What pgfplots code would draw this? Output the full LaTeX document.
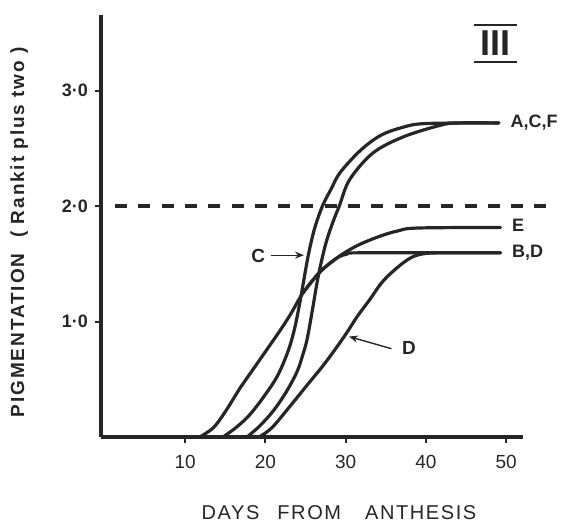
\documentclass[border=0pt]{standalone}
\usepackage{fontspec}
\setmainfont{Liberation Sans}
\usepackage{pgfplots}
\pgfplotsset{compat=1.18}
\usepackage{pgfplotstable}
\usetikzlibrary{arrows.meta}
\definecolor{ink}{RGB}{38,38,38}

% curve E (leftmost start, moderate slope)
\pgfplotstableread{
x y
11.8 0
13.5 0.08
15.0 0.22
16.8 0.42
18.5 0.59
20.2 0.76
21.7 0.91
23.1 1.06
24.7 1.25
26.8 1.43
28.9 1.55
30.2 1.61
31.8 1.67
34.3 1.74
36.5 1.785
39.0 1.81
49.3 1.815
}\curveE
% curve B (shares E, then levels off)
\pgfplotstableread{
x y
24.7 1.25
26.8 1.43
28.9 1.55
30.2 1.585
31.5 1.595
49.3 1.595
}\curveB
% curve C (left steep)
\pgfplotstableread{
x y
14.7 0
16.3 0.08
18.0 0.19
19.8 0.35
21.5 0.53
22.8 0.74
23.6 0.93
24.3 1.17
25.3 1.56
26.1 1.80
27.1 2.00
28.2 2.15
29.3 2.29
31.8 2.48
34.3 2.61
37.0 2.68
40.0 2.715
49.1 2.72
}\curveC
% curve A/F (right steep)
\pgfplotstableread{
x y
17.7 0
19.2 0.09
20.9 0.22
22.5 0.38
23.9 0.56
24.6 0.70
25.2 0.85
25.9 1.12
26.6 1.40
27.5 1.67
28.4 1.86
29.2 2.00
30.5 2.23
33.4 2.46
37.2 2.60
41.8 2.70
44.0 2.72
49.1 2.72
}\curveA
% curve D
\pgfplotstableread{
x y
19.2 0
20.8 0.08
23.1 0.27
25.2 0.45
27.2 0.62
28.8 0.77
30.2 0.91
31.5 1.05
33.0 1.19
34.3 1.32
35.5 1.41
37.2 1.51
38.5 1.565
40.0 1.59
42.0 1.595
49.3 1.595
}\curveD

\begin{document}
\begin{tikzpicture}
\begin{axis}[
  name=ax,
  scale only axis, width=211pt, height=211pt,
  xmin=-0.5, xmax=52.1, ymin=0, ymax=3.655,
  axis x line*=bottom, axis y line*=left,
  axis line style={-, line width=2pt, ink},
  clip=false,
  xtick={10,20,30,40,50}, xticklabels={10,20,30,40,50},
  ytick={1,2,3}, yticklabels={1·0,2·0,3·0},
  tick align=outside,
  major tick length=3pt,
  tick style={line width=1pt, ink},
  x tick label style={font=\fontsize{9.5}{10}\selectfont, text=ink, yshift=-2.5pt},
  y tick label style={font=\fontsize{9}{10}\selectfont\bfseries, text=ink, xshift=0pt},
  xlabel={DAYS\hspace{9pt}FROM\hspace{12pt}ANTHESIS},
  xlabel style={font=\fontsize{10}{11}\selectfont\addfontfeature{LetterSpace=8}, text=ink,
    at={(axis description cs:0.564,-0.18)}, anchor=center},
  ylabel={PIGMENTATION\hspace{8pt}( Rankit plus two )},
  ylabel style={font=\fontsize{9.5}{10}\selectfont\bfseries\addfontfeature{LetterSpace=10}, text=ink,
    at={(axis description cs:-0.194,0.485)}, anchor=center, rotate=0},
  every axis plot/.append style={line width=1.6pt, ink, line join=round, line cap=round},
]
\addplot[smooth, tension=0.55] table {\curveE};
\addplot[smooth, tension=0.55] table {\curveB};
\addplot[smooth, tension=0.55] table {\curveC};
\addplot[smooth, tension=0.55] table {\curveA};
\addplot[smooth, tension=0.55] table {\curveD};
\addplot[line width=1.6pt, line cap=butt, dash pattern=on 6pt off 5.65pt] coordinates {(1.25,2) (55.7,2)};

\node[anchor=west, font=\fontsize{9}{10}\selectfont\bfseries, text=ink, inner sep=0pt] at (axis cs:50.5,2.72) {A,C,F};
\node[anchor=west, font=\fontsize{9}{10}\selectfont\bfseries, text=ink, inner sep=0pt] at (axis cs:50.7,1.83) {E};
\node[anchor=west, font=\fontsize{9}{10}\selectfont\bfseries, text=ink, inner sep=0pt] at (axis cs:50.7,1.60) {B,D};
\node[font=\fontsize{9.5}{10}\selectfont\bfseries, text=ink, inner sep=0pt] at (axis cs:19.1,1.565) {C};
\node[font=\fontsize{9.5}{10}\selectfont\bfseries, text=ink, inner sep=0pt] at (axis cs:37.9,0.775) {D};
\draw[ink, line width=0.6pt, -{Stealth[length=4.5pt,width=3.5pt]}] (axis cs:20.7,1.575) -- (axis cs:24.8,1.575);
\draw[ink, line width=0.7pt, -{Stealth[length=4.5pt,width=3.5pt]}] (axis cs:35.7,0.765) -- (axis cs:30.4,0.87);

\node[font=\fontsize{18}{18}\selectfont\bfseries, text=ink, inner sep=0pt] (t) at (axis description cs:0.934,0.934) {III};
\draw[ink, line width=1.1pt] ([xshift=-3pt,yshift=2.5pt]t.north west) -- ([xshift=3pt,yshift=2.5pt]t.north east);
\draw[ink, line width=1.1pt] ([xshift=-3pt,yshift=-3pt]t.south west) -- ([xshift=3pt,yshift=-3pt]t.south east);
\end{axis}
\pgfresetboundingbox
\path ([shift={(-50.5pt,-42pt)}]ax.south west) rectangle ([shift={(233.5pt,218.5pt)}]ax.south west);
\end{tikzpicture}
\end{document}
